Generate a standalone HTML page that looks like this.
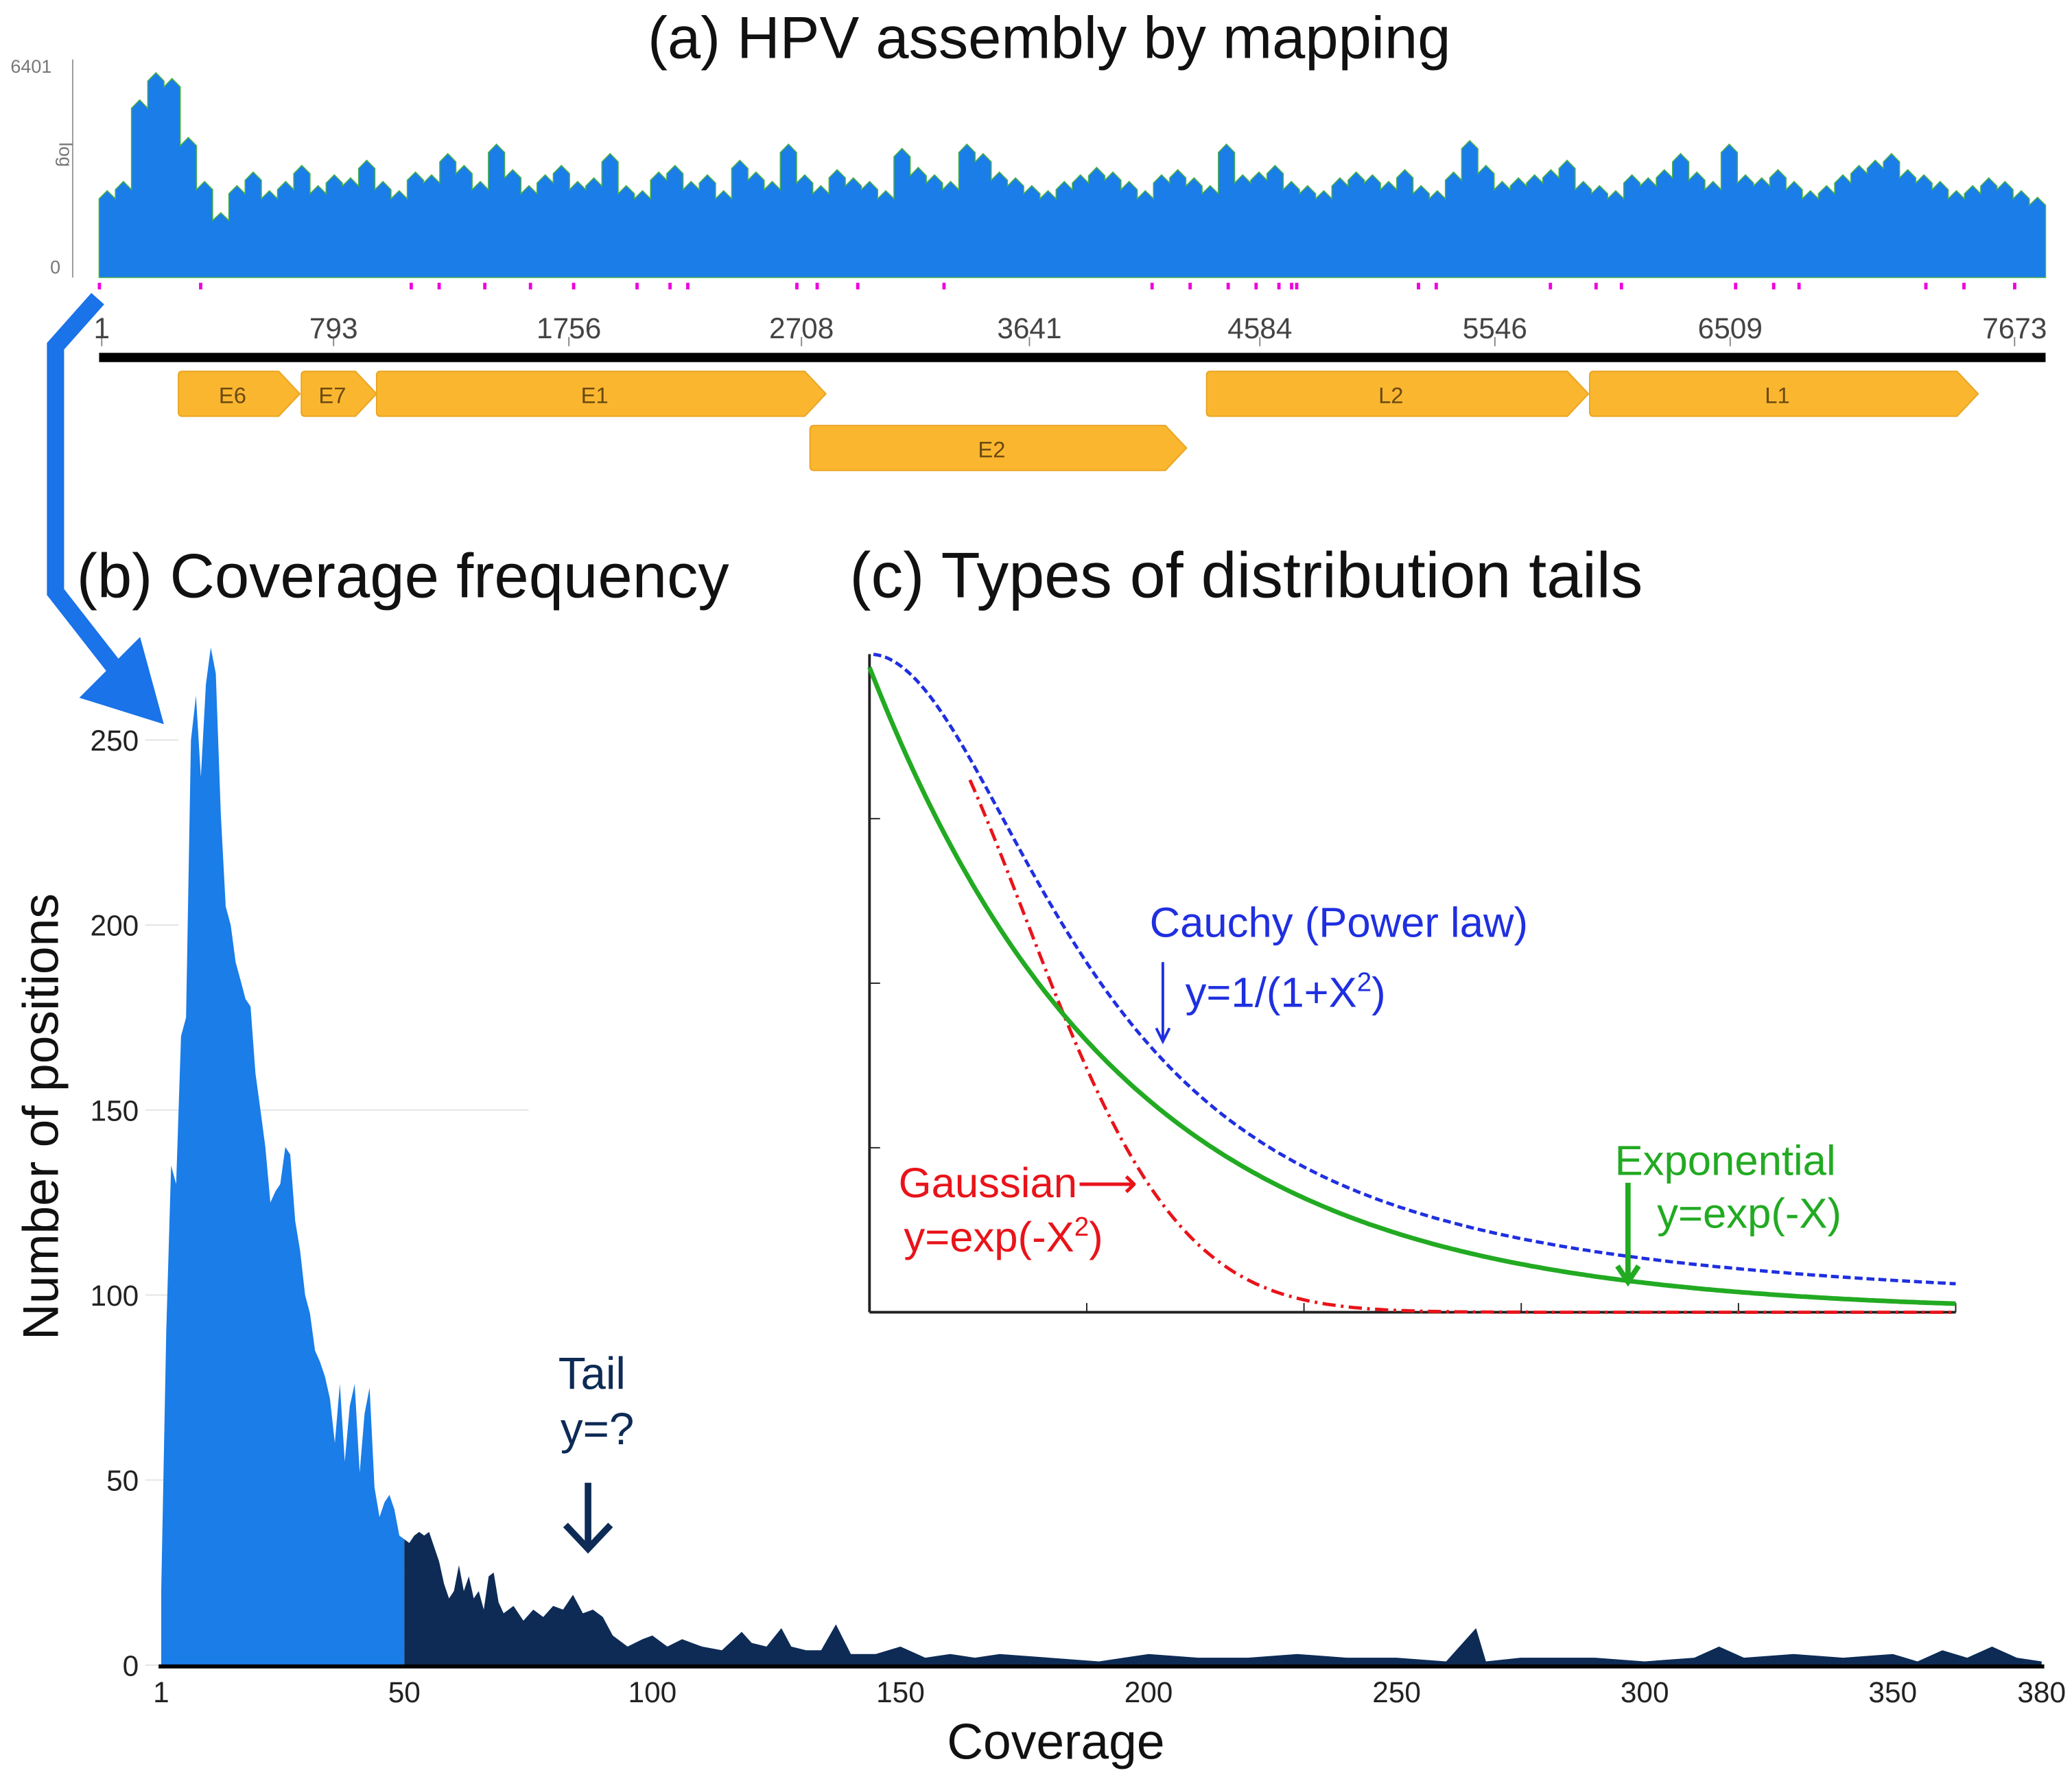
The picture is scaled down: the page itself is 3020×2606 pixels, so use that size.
<!DOCTYPE html>
<html><head><meta charset="utf-8"><style>
html,body{margin:0;padding:0;background:#fff;}
svg{display:block;font-family:"Liberation Sans",sans-serif;}
</style></head><body>
<svg id="fig" width="3020" height="2606" viewBox="0 0 1568 1353" preserveAspectRatio="none" xmlns="http://www.w3.org/2000/svg">
<rect width="1568" height="1353" fill="#fff"/>
<text x="794" y="44" font-size="45" text-anchor="middle" fill="#111">(a) HPV assembly by mapping</text>
<g fill="#777" font-size="14">
<line x1="55" y1="45" x2="55" y2="210" stroke="#999"/>
<text x="8" y="55">6401</text><text x="38" y="207">0</text>
<text x="45" y="117" transform="rotate(90 45 117)" text-anchor="middle">log</text>
</g>
<g id="track"></g>
<g id="mag"></g>
<g id="gaxis"></g>
<rect x="75" y="267" width="1473" height="7" fill="#000"/>
<g id="genes"></g>
<path d="M74,226 L42,262 L42,448 L92,512" fill="none" stroke="#1a73e8" stroke-width="13"/>
<polygon points="60,528 106,482 124,548" fill="#1a73e8"/>
<text x="58" y="452" font-size="47" fill="#111">(b) Coverage frequency</text>
<text x="643" y="452" font-size="48.5" fill="#111">(c) Types of distribution tails</text>
<g id="hist"></g>
<text x="44" y="845" font-size="38" text-anchor="middle" transform="rotate(-90 44 845)" fill="#111">Number of positions</text>
<text x="799" y="1331" font-size="38" text-anchor="middle" fill="#111">Coverage</text>
<text x="448" y="1051" font-size="34" text-anchor="middle" fill="#0d2b55">Tail</text>
<text x="452" y="1093" font-size="34" text-anchor="middle" fill="#0d2b55">y=?</text>
<g stroke="#0d2b55" stroke-width="5" fill="none"><line x1="445" y1="1122" x2="445" y2="1172"/><polyline points="428,1154 445,1172 462,1154"/></g>
<g id="tails"></g>
<text x="870" y="709" font-size="32" fill="#1f2fe0">Cauchy (Power law)</text>
<text x="897" y="762" font-size="32" fill="#1f2fe0">y=1/(1+X<tspan font-size="20" dy="-12">2</tspan><tspan dy="12">)</tspan></text>
<g stroke="#1f2fe0" stroke-width="2" fill="none"><line x1="880" y1="728" x2="880" y2="788"/><polyline points="875,778 880,788 885,778"/></g>
<text x="1222" y="889" font-size="32" fill="#22aa22">Exponential</text>
<text x="1254" y="929" font-size="32" fill="#22aa22">y=exp(-X)</text>
<g stroke="#22aa22" stroke-width="4" fill="none"><line x1="1232" y1="895" x2="1232" y2="970"/><polyline points="1224,958 1232,970 1240,958"/></g>
<text x="680" y="906" font-size="32" fill="#e8141a">Gaussian⟶</text>
<text x="684" y="947" font-size="32" fill="#e8141a">y=exp(-X<tspan font-size="20" dy="-12">2</tspan><tspan dy="12">)</tspan></text>
</svg>
<script>
const NS="http://www.w3.org/2000/svg";
function mk(t,a,p){const e=document.createElementNS(NS,t);for(const k in a)e.setAttribute(k,a[k]);p.appendChild(e);return e;}
// ---- panel (a) data ----
const trackValues=[40,60,2000,6401,5000,400,60,15,50,90,40,60,120,50,80,70,150,60,40,90,80,200,120,60,300,100,50,80,120,60,70,200,50,40,90,120,60,80,40,150,90,60,300,80,50,100,70,60,40,250,110,80,60,300,200,90,70,50,40,60,80,110,90,60,40,80,100,70,50,300,80,90,120,60,50,40,70,90,80,60,100,50,40,90,350,120,60,70,80,100,150,60,50,40,80,70,100,200,90,60,300,80,70,100,60,40,50,80,120,150,200,100,80,60,40,50,70,60,40,30];
const genomeTicks=[1,793,1756,2708,3641,4584,5546,6509,7673];
const geneNames=["E6","E7","E1","E2","L2","L1"];
const geneStart=[158,661,969,2743,4366,5934];
const geneEnd=[655,969,2808,4284,5929,7524];
const geneRow=[0,0,0,1,0,0];
const variantPos=[1,400,1230,1340,1520,1700,1870,2120,2250,2320,2750,2830,2990,3330,4150,4300,4450,4560,4650,4700,4720,5200,5270,5720,5900,6000,6450,6600,6700,7200,7350,7550];
const GL=7673,gx=p=>106+(p-1)*0.1849, vx=p=>75+(p-1)/(GL-1)*1473;
const ty=v=>210-Math.log(v+1)/Math.log(6402)*155;
const track=document.getElementById('track');
let d="M75,210";const n=trackValues.length;
trackValues.forEach((v,i)=>{const x0=75+i/n*1473,x1=75+(i+1)/n*1473,xm=(x0+x1)/2;d+=` L${x0.toFixed(1)},${ty(v*0.7).toFixed(1)} L${xm.toFixed(1)},${ty(v).toFixed(1)} L${x1.toFixed(1)},${ty(v*0.7).toFixed(1)}`;});
d+=" L1548,210 Z";
const ta=mk('path',{d:d,fill:"#1a7de8",stroke:"#49b04a","stroke-width":"0.8"},track);


const mag=document.getElementById('mag');
variantPos.forEach(p=>{const r=mk('rect',{x:vx(p)-1,y:214,width:2.5,height:5,fill:"#e0d"},mag);

});
const ga=document.getElementById('gaxis');
genomeTicks.forEach(t=>{const x=t===1?77:gx(t);
mk('line',{x1:x,y1:255,x2:x,y2:262,stroke:"#888"},ga);
const tx=mk('text',{x:x,y:256,"font-size":"22","text-anchor":"middle",fill:"#444"},ga);tx.textContent=t;

});
const genes=document.getElementById('genes');
geneNames.forEach((g,i)=>{const x0=gx(geneStart[i]),x1=gx(geneEnd[i]),y0=281+geneRow[i]*41,h=34;
const p=mk('path',{d:`M${x0+3},${y0} L${x1-16},${y0} L${x1},${y0+h/2} L${x1-16},${y0+h} L${x0+3},${y0+h} Q${x0},${y0+h} ${x0},${y0+h-3} L${x0},${y0+3} Q${x0},${y0} ${x0+3},${y0} Z`,fill:"#fbb630",stroke:"#e9a420"},genes);


const t=mk('text',{x:(x0+x1-10)/2,y:y0+24,"font-size":"17","text-anchor":"middle",fill:"#6a4a10"},genes);t.textContent=g;

});
// ---- panel (b) data ----
const covX=[1,2,3,4,5,6,7,8,9,10,11,12,13,14,15,16,17,18,19,20,21,22,23,24,25,26,27,28,29,30,31,32,33,34,35,36,37,38,39,40,41,42,43,44,45,46,47,48,49,50];
const covY=[20,90,135,130,170,175,250,262,240,265,275,268,230,205,200,190,185,180,178,160,150,140,125,128,130,140,138,120,112,100,95,85,82,78,72,60,76,55,70,76,52,68,75,48,40,44,46,42,35,34];
const tailX=[50,51,52,53,54,55,56,57,58,59,60,61,62,63,64,65,66,67,68,69,70,72,74,76,78,80,82,84,86,88,90,92,95,98,100,103,106,110,114,118,120,123,126,128,131,134,137,140,145,150,155,160,165,170,180,190,200,210,220,230,240,250,260,266,268,275,290,300,310,315,320,330,340,350,355,360,365,370,375,380];
const tailY=[34,33,35,36,35,36,32,28,22,18,20,27,20,24,18,20,15,24,25,17,14,16,12,15,13,16,15,19,14,15,13,8,5,7,8,5,7,5,4,9,6,5,10,5,4,4,11,3,3,5,2,3,2,3,2,1,3,2,2,3,2,2,1,10,1,2,2,1,2,5,2,3,2,3,1,4,2,5,2,1];
const yTicks=[0,50,100,150,200,250];
const xTicks=[1,50,100,150,200,250,300,350,380];
const bx=v=>122+(v-1)/379*1423, by=v=>1260-v*2.8;
const H=document.getElementById('hist');
yTicks.forEach(t=>{const y=by(t);
mk('line',{x1:110,y1:y,x2:t==150?400:135,y2:y,stroke:"#e4e4e4"},H);
const tx=mk('text',{x:105,y:y+8,"font-size":"22","text-anchor":"end",fill:"#222"},H);tx.textContent=t;

});
function area(xs,ys,col,name){let s=`M${bx(xs[0])},${by(0)}`;xs.forEach((x,i)=>s+=` L${bx(x).toFixed(1)},${by(ys[i]).toFixed(1)}`);s+=` L${bx(xs[xs.length-1])},${by(0)} Z`;
const p=mk('path',{d:s,fill:col},H);

}
area(covX,covY,"#1a7de8","low-coverage-area");
area(tailX,tailY,"#0d2b55","tail-area");
mk('line',{x1:120,y1:1261,x2:1547,y2:1261,stroke:"#000","stroke-width":"3"},H);
xTicks.forEach(t=>{const tx=mk('text',{x:bx(t),y:1288,"font-size":"22","text-anchor":"middle",fill:"#222"},H);tx.textContent=t;

});
// ---- panel (c) ----
const tailXTicks=[1,2,3,4,5];
const tailYTicks=[0.25,0.5,0.75];
const cx0=658,cx1=1480,cy0=993,cy1=495;
const cy=v=>cy0-v*(cy0-cy1);
const T=document.getElementById('tails');
mk('line',{x1:cx0,y1:cy1,x2:cx0,y2:cy0,stroke:"#222","stroke-width":"2"},T);
mk('line',{x1:cx0,y1:cy0,x2:cx1,y2:cy0,stroke:"#222","stroke-width":"2"},T);
tailXTicks.forEach(t=>{const x=cx0+t*(cx1-cx0)/5;mk('line',{x1:x,y1:cy0,x2:x,y2:cy0-7,stroke:"#222"},T);});
tailYTicks.forEach(t=>{mk('line',{x1:cx0,y1:cy(t),x2:cx0+8,y2:cy(t),stroke:"#222"},T);});
function curve(f,scale,x0,col,dash,w,name){let s="";for(let px=x0;px<=cx1;px+=3){const X=(px-cx0)/scale;s+=(s?" L":"M")+px+","+cy(f(X)).toFixed(1);}
const p=mk('path',{d:s,fill:"none",stroke:col,"stroke-width":w,"stroke-dasharray":dash},T);

}
curve(X=>Math.exp(-X*X),165,734,"#e8141a","10,4,2,4",2.5,"gaussian-curve");
curve(X=>1/(1+X*X),175,661,"#1f2fe0","6,3",2.5,"cauchy-curve");
curve(X=>0.98*Math.exp(-X),190,658,"#22aa22","",3.5,"exponential-curve");
</script>
</body></html>
